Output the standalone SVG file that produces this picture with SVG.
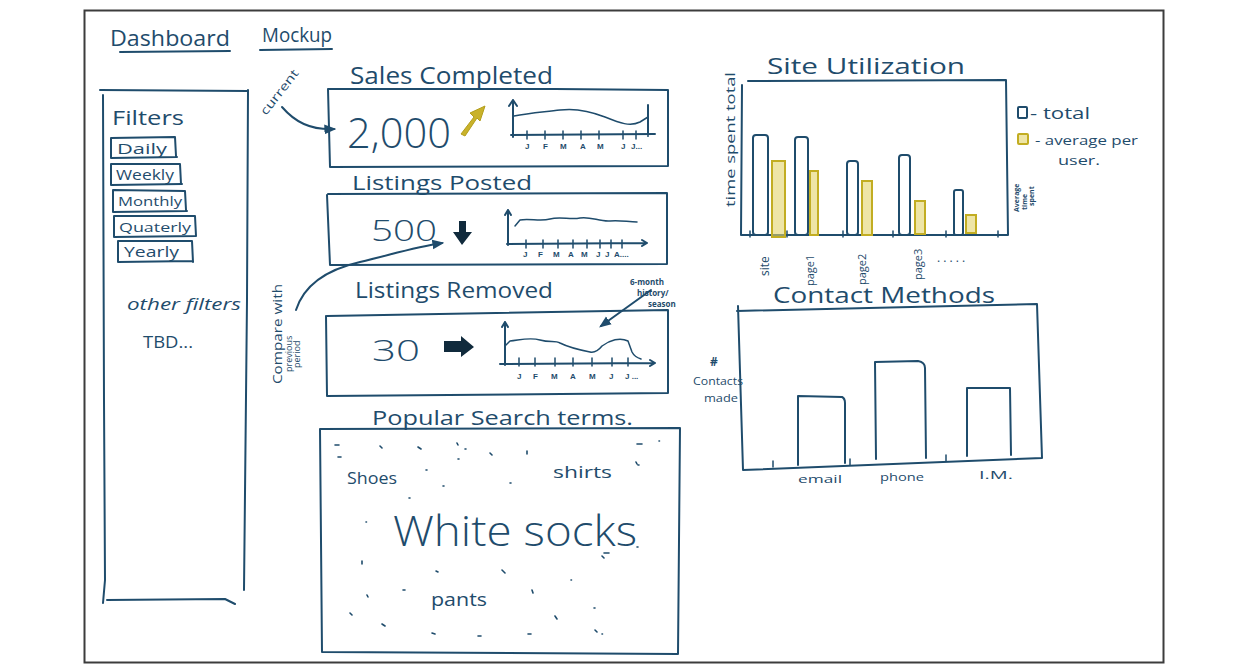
<svg xmlns="http://www.w3.org/2000/svg" width="1248" height="672" viewBox="0 0 1248 672">
<style>
.ink{fill:none;stroke:#1f4c6c;stroke-width:2;stroke-linecap:round;stroke-linejoin:round}
.thin{fill:none;stroke:#1f4c6c;stroke-width:1.5;stroke-linecap:round;stroke-linejoin:round}
.yel{fill:#e2d36a;fill-opacity:0.6;stroke:#c2ad22;stroke-width:2}
.t{font-family:"Open Sans","Liberation Sans",sans-serif;fill:#1f4c6c}
.lab{font-family:"Liberation Sans",sans-serif;font-weight:bold;fill:#1f4c6c;font-size:8px}
.dot{fill:none;stroke:#1f4c6c;stroke-width:1.6;stroke-linecap:round}
</style>
<defs>
<marker id="ah" viewBox="0 0 10 10" refX="8" refY="5" markerWidth="6" markerHeight="6" orient="auto"><path d="M0,1 L10,5 L0,9 Z" fill="#1f4c6c"/></marker>
</defs>
<rect x="0" y="0" width="1248" height="672" fill="#fff"/>
<rect x="84.5" y="10.5" width="1079" height="652" fill="#fff" stroke="#3c3c3c" stroke-width="2"/>

<g id="title">
<text class="t" x="110" y="46" font-size="22" textLength="120" lengthAdjust="spacingAndGlyphs">Dashboard</text>
<path class="ink" d="M120,52 L230,51"/>
<text class="t" x="262" y="42" font-size="20" textLength="70" lengthAdjust="spacingAndGlyphs">Mockup</text>
<path class="ink" d="M260,50 L332,49"/>
</g>

<g id="filters">
<path class="ink" d="M100,90 L248,91 M103,95 L104,400 L105,580 L103,603 M248,90 L247,300 L244,590 M107,600 L225,599 L235,604"/>
<text class="t" x="112" y="125" font-size="20" textLength="72" lengthAdjust="spacingAndGlyphs">Filters</text>
<path class="ink" d="M111,138 L175,137 L176,156 M111,138 L111,158 L177,157"/>
<text class="t" x="117" y="154" font-size="14" textLength="50" lengthAdjust="spacingAndGlyphs">Daily</text>
<path class="ink" d="M111,164 L180,164 L181,184 M111,164 L111,185 L182,184"/>
<text class="t" x="116" y="180" font-size="14" textLength="58" lengthAdjust="spacingAndGlyphs">Weekly</text>
<path class="ink" d="M113,190 L185,191 L186,210 M113,190 L113,212 L187,211"/>
<text class="t" x="118" y="206" font-size="13" textLength="64" lengthAdjust="spacingAndGlyphs">Monthly</text>
<path class="ink" d="M114,216 L195,216 L196,236 M114,216 L114,237 L196,236"/>
<text class="t" x="119" y="232" font-size="13" textLength="72" lengthAdjust="spacingAndGlyphs">Quaterly</text>
<path class="ink" d="M118,241 L192,241 L193,262 M118,241 L118,262 L193,261"/>
<text class="t" x="124" y="257" font-size="14" textLength="55" lengthAdjust="spacingAndGlyphs">Yearly</text>
<text class="t" x="127" y="310" font-size="17" font-style="italic" textLength="114" lengthAdjust="spacingAndGlyphs">other filters</text>
<text class="t" x="143" y="348" font-size="16" textLength="50" lengthAdjust="spacingAndGlyphs">TBD...</text>
</g>

<g id="sales-completed">
<text class="t" x="350" y="84" font-size="24" textLength="203" lengthAdjust="spacingAndGlyphs">Sales Completed</text>
<path class="ink" d="M328,89 L555,89 L668,90 M328,89 L330,167 L668,166 M668,90 L668,166"/>
<text class="t" x="347" y="148" font-size="42" font-weight="300" textLength="104" lengthAdjust="spacingAndGlyphs">2,000</text>
<path d="M461,134 L474,117 L470,113 L485,106 L480,121 L477,118 L465,136 Z" fill="#c9b22a" stroke="#b39e1c" stroke-width="1"/>
<path class="ink" d="M513,137 L513,100 M509,106 L513,100 L517,106 M511,135 L655,134 M648,105 L648,136"/>
<path class="thin" d="M514,116 C530,113 545,112 560,110 C575,108 590,111 605,117 C620,123 630,127 640,122 L648,117"/>
<path class="thin" d="M527,131 V139 M545,131 V139 M563,131 V139 M581,131 V139 M599,131 V139 M623,131 V139 M636,131 V139"/>
<text class="lab" x="525" y="149">J</text><text class="lab" x="543" y="149">F</text><text class="lab" x="560" y="149">M</text><text class="lab" x="580" y="149">A</text><text class="lab" x="597" y="149">M</text><text class="lab" x="621" y="149">J</text><text class="lab" x="631" y="149">J...</text>
</g>

<g id="listings-posted">
<text class="t" x="352" y="190" font-size="20" textLength="180" lengthAdjust="spacingAndGlyphs">Listings Posted</text>
<path class="ink" d="M328,194 L667,193 L667,264 M327,195 L330,265 L667,264"/>
<text class="t" x="371" y="241" font-size="30" font-weight="300" textLength="66" lengthAdjust="spacingAndGlyphs">500</text>
<path d="M459,221 L466,221 L466,232 L472,232 L462,245 L453,232 L459,232 Z" fill="#102a3c"/>
<path class="ink" d="M508,245 L508,210 M505,215 L508,210 L511,215 M507,244 L647,243 M642,240 L647,243 L642,246"/>
<path class="thin" d="M515,226 L520,220 C530,218 540,222 550,219 C560,216 570,220 580,218 C590,216 600,222 610,221 C620,220 628,222 637,222"/>
<path class="thin" d="M526,240 V248 M543,240 V248 M558,240 V248 M573,240 V248 M587,240 V248 M600,240 V248 M611,240 V248 M622,240 V248"/>
<text class="lab" x="523" y="257">J</text><text class="lab" x="538" y="257">F</text><text class="lab" x="553" y="257">M</text><text class="lab" x="568" y="257">A</text><text class="lab" x="581" y="257">M</text><text class="lab" x="596" y="257">J</text><text class="lab" x="605" y="257">J</text><text class="lab" x="614" y="257">A....</text>
</g>

<g id="listings-removed">
<text class="t" x="355" y="298" font-size="22" textLength="198" lengthAdjust="spacingAndGlyphs">Listings Removed</text>
<path class="ink" d="M327,316 L668,310 L668,393 M326,316 L327,396 L668,393"/>
<text class="t" x="372" y="361" font-size="30" font-weight="300" textLength="48" lengthAdjust="spacingAndGlyphs">30</text>
<path d="M444,341 L461,341 L461,336 L474,347 L461,357 L461,352 L444,352 Z" fill="#102a3c"/>
<path class="ink" d="M505,365 L505,322 M502,327 L505,322 L508,327 M500,364 L655,363 M650,360 L655,363 L650,366"/>
<path class="thin" d="M506,345 L510,341 C520,340 530,337 540,340 C550,343 555,340 560,343 C570,348 580,350 590,352 C595,353 598,351 602,346 C610,340 620,337 628,341 L632,352 C634,356 638,358 641,359"/>
<path class="thin" d="M519,358 V366 M535,358 V366 M555,358 V366 M573,358 V366 M592,358 V366 M612,358 V366 M628,358 V366"/>
<text class="lab" x="517" y="379">J</text><text class="lab" x="533" y="379">F</text><text class="lab" x="551" y="379">M</text><text class="lab" x="570" y="379">A</text><text class="lab" x="589" y="379">M</text><text class="lab" x="609" y="379">J</text><text class="lab" x="625" y="379">J ...</text>
</g>

<g id="annotations">
<text class="t" font-size="12" transform="translate(266,116) rotate(-52)" textLength="54" lengthAdjust="spacingAndGlyphs">current</text>
<text class="t" font-size="12" transform="translate(282,384) rotate(-90)" textLength="100" lengthAdjust="spacingAndGlyphs">Compare with</text>
<text class="t" font-size="9" transform="translate(292,372) rotate(-90)">previous</text>
<text class="t" font-size="9" transform="translate(300,368) rotate(-90)">period</text>
<text class="t" font-size="8" font-weight="bold" x="630" y="285">6-month</text>
<text class="t" font-size="8" font-weight="bold" x="637" y="296">history/</text>
<text class="t" font-size="8" font-weight="bold" x="648" y="307">season</text>
</g>

<g id="connectors">
<path class="ink" d="M282,107 C295,122 310,130 334,129" marker-end="url(#ah)"/>
<path class="ink" d="M296,310 C304,285 325,270 360,262 C390,255 415,247 442,243" marker-end="url(#ah)"/>
<path class="ink" d="M651,290 L601,326" marker-end="url(#ah)"/>
</g>

<g id="popular-search-terms">
<text class="t" x="372" y="425" font-size="20" textLength="261" lengthAdjust="spacingAndGlyphs">Popular Search terms.</text>
<path class="ink" d="M320,429 L680,428 L678,654 M320,429 L322,652 L678,654"/>
<text class="t" x="347" y="484" font-size="17" textLength="50" lengthAdjust="spacingAndGlyphs">Shoes</text>
<text class="t" x="553" y="478" font-size="17" textLength="59" lengthAdjust="spacingAndGlyphs">shirts</text>
<text class="t" x="393" y="546" font-size="42" font-weight="300" textLength="244" lengthAdjust="spacingAndGlyphs">White socks</text>
<text class="t" x="431" y="606" font-size="18" textLength="56" lengthAdjust="spacingAndGlyphs">pants</text>
<path class="dot" d="M335,445 h4 M338,457 h3 M380,446 l2,2 M418,447 l3,2 M457,443 l1,2 M465,449 h1 M490,453 l2,2 M527,451 l0,3 M458,459 h1 M426,470 h1 M443,486 h1 M510,483 h1 M409,498 h1 M366,522 h0.5 M362,561 v3 M436,571 l2,1 M502,570 l3,3 M367,595 l1,2 M403,590 h2 M532,590 l1,3 M350,613 l2,2 M382,624 l3,2 M432,633 l3,1 M478,636 h3 M528,634 h3 M555,616 l2,3 M595,630 l2,2 M602,634 h0.5 M594,608 h1 M571,580 h0.5 M602,556 l2,2 M604,553 h5 M637,547 h1 M638,465 h1 M636,462 l1,2 M637,444 h5 M659,441 h0.5"/>
</g>

<g id="site-utilization">
<text class="t" x="767" y="74" font-size="22" textLength="198" lengthAdjust="spacingAndGlyphs">Site Utilization</text>
<path class="ink" d="M748,81 L1006,80 L1008,235 M742,85 L741,235 L1008,235"/>
<rect x="753" y="135" width="15" height="100" rx="3" fill="#fff" stroke="#1f4c6c" stroke-width="2"/>
<rect x="772" y="161" width="13" height="76" class="yel"/>
<rect x="795" y="137" width="13" height="98" rx="3" fill="#fff" stroke="#1f4c6c" stroke-width="2"/>
<rect x="810" y="171" width="8" height="64" class="yel"/>
<rect x="847" y="161" width="11" height="74" rx="3" fill="#fff" stroke="#1f4c6c" stroke-width="2"/>
<rect x="862" y="181" width="10" height="54" class="yel"/>
<rect x="899" y="155" width="11" height="80" rx="3" fill="#fff" stroke="#1f4c6c" stroke-width="2"/>
<rect x="915" y="201" width="10" height="33" class="yel"/>
<rect x="954" y="190" width="9" height="45" rx="2" fill="#fff" stroke="#1f4c6c" stroke-width="2"/>
<rect x="966" y="215" width="10" height="18" class="yel"/>
<path class="thin" d="M750,231 v6 M787,231 v6 M843,231 v6 M893,231 v6 M946,231 v6 M998,231 v6"/>
<text class="t" font-size="12" transform="translate(769,276) rotate(-90)">site</text>
<text class="t" font-size="11" transform="translate(814,286) rotate(-90)">page1</text>
<text class="t" font-size="11" transform="translate(866,285) rotate(-90)">page2</text>
<text class="t" font-size="11" transform="translate(922,280) rotate(-90)">page3</text>
<text class="t" font-size="12" x="937" y="262">. . . . .</text>
<text class="t" font-size="13" transform="translate(735,207) rotate(-90)" textLength="135" lengthAdjust="spacingAndGlyphs">time spent total</text>
<text class="t" font-size="7" font-weight="bold" transform="translate(1019,212) rotate(-90)">Average</text>
<text class="t" font-size="7" font-weight="bold" transform="translate(1027,210) rotate(-90)">time</text>
<text class="t" font-size="7" font-weight="bold" transform="translate(1034,206) rotate(-90)">spent</text>
<rect x="1018" y="107" width="9" height="11" rx="1" fill="#fff" stroke="#1f4c6c" stroke-width="2"/>
<text class="t" x="1030" y="119" font-size="16" textLength="60" lengthAdjust="spacingAndGlyphs">- total</text>
<rect x="1018" y="134" width="10" height="10" rx="1" class="yel"/>
<text class="t" x="1035" y="145" font-size="13" textLength="103" lengthAdjust="spacingAndGlyphs">- average per</text>
<text class="t" x="1058" y="165" font-size="13" textLength="42" lengthAdjust="spacingAndGlyphs">user.</text>
</g>

<g id="contact-methods">
<text class="t" x="773" y="303" font-size="22" textLength="222" lengthAdjust="spacingAndGlyphs">Contact Methods</text>
<path class="ink" d="M737,311 L1037,304 L1042,458 M738,306 L743,470 L1042,458"/>
<path class="ink" d="M798,465 L798,396 L842,397 C844,398 845,400 845,403 L845,463"/>
<path class="ink" d="M876,459 L875,362 L918,361 C923,362 925,364 925,368 L926,458"/>
<path class="ink" d="M967,456 L967,388 L1010,388 L1011,455"/>
<path class="thin" d="M773,461 v6 M850,459 v6 M946,455 v6"/>
<text class="t" x="710" y="366" font-size="12" font-weight="bold">#</text>
<text class="t" x="693" y="385" font-size="11" textLength="50" lengthAdjust="spacingAndGlyphs">Contacts</text>
<text class="t" x="704" y="402" font-size="11" textLength="34" lengthAdjust="spacingAndGlyphs">made</text>
<text class="t" x="798" y="483" font-size="11" textLength="44" lengthAdjust="spacingAndGlyphs">email</text>
<text class="t" x="880" y="481" font-size="11" textLength="44" lengthAdjust="spacingAndGlyphs">phone</text>
<text class="t" x="979" y="479" font-size="11" textLength="34" lengthAdjust="spacingAndGlyphs">I.M.</text>
</g>
</svg>
